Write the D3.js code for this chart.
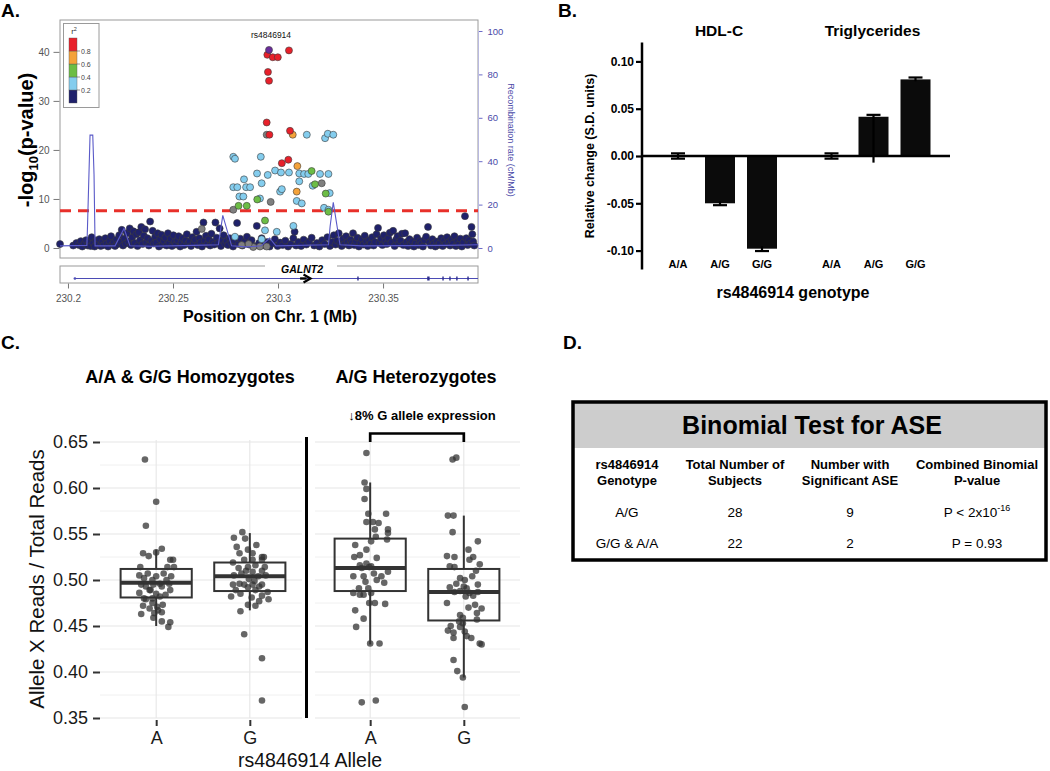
<!DOCTYPE html>
<html><head><meta charset="utf-8">
<script src="https://cdn.jsdelivr.net/npm/d3@7"></script>
<style>body{margin:0;background:#fff} svg{display:block;font-family:"Liberation Sans",Arial,Helvetica,sans-serif}</style>
</head><body><svg id="c" width="1050" height="771"></svg>
<script>
// ================= DATA =================
// Panel A: regional association plot (position in Mb, -log10 p)
const leadSnp = {name: "rs4846914", pos: 230.2957, logp: 40.4};
const snpRed = [[230.2949,39.4],[230.2975,38.9],[230.2999,38.9],[230.3052,40.3],[230.2952,35.9],[230.2957,34.1],[230.2946,25.6],[230.2959,23.1],[230.3057,23.9],[230.3018,17.3],[230.3049,18.0]];
const snpOrange = [[230.3070,23.1],[230.3092,16.7],[230.3089,11.5]];
const snpGreen = [[230.3160,15.7],[230.3176,13.0],[230.3227,11.1],[230.2901,9.9],[230.2851,8.6],[230.2812,8.6],[230.3240,7.4],[230.2938,5.6]];
const snpGrey = [[230.2946,23.1],[230.3208,13.2],[230.2965,9.4],[230.2787,7.8],[230.2637,3.9],[230.2827,0.6],[230.2882,0.2],[230.2914,0.3],[230.2946,0.3],[230.2860,0.8]];
const snpLightBlue = [[230.3137,23.1],[230.3224,22.4],[230.3237,23.3],[230.3263,23.1],[230.2787,18.6],[230.2795,18.2],[230.2918,18.6],[230.2838,14.0],[230.2900,15.2],[230.2951,14.9],[230.2986,15.8],[230.3014,15.4],[230.3052,15.4],[230.3101,15.2],[230.3124,15.1],[230.3144,15.1],[230.3200,15.1],[230.3240,15.1],[230.2787,12.4],[230.2806,12.4],[230.2848,12.4],[230.2867,12.4],[230.2922,13.2],[230.3010,11.5],[230.3018,12.0],[230.3101,13.6],[230.3165,12.7],[230.3246,11.2],[230.2816,10.5],[230.2835,10.5],[230.2914,10.1],[230.3089,9.6],[230.3113,9.1],[230.3219,8.2],[230.3240,7.8],[230.2938,3.6],[230.2994,3.3],[230.3073,4.5],[230.2795,2.3],[230.2922,1.8]];
const snpNavy = [[230.1962,0.8],[230.2025,0.5],[230.2040,1.0],[230.2052,0.6],[230.2061,1.4],[230.2068,0.3],[230.2079,0.9],[230.2086,1.6],[230.2094,0.5],[230.2101,1.1],[230.2108,0.4],[230.2113,2.2],[230.2120,1.0],[230.2127,0.3],[230.2134,1.5],[230.2142,0.7],[230.2149,1.8],[230.2156,0.4],
[230.2163,1.2],[230.2170,0.6],[230.2178,2.0],[230.2184,0.9],[230.2191,0.3],[230.2198,1.4],[230.2205,2.4],[230.2211,0.7],[230.2218,1.1],[230.2224,0.4],[230.2230,1.7],[230.2237,0.8],[230.2244,2.6],[230.2250,1.2],[230.2256,3.7],[230.2262,0.5],[230.2268,1.9],[230.2275,0.9],[230.2281,3.0],[230.2288,1.3],[230.2294,4.0],[230.2300,0.6],[230.2306,2.2],[230.2312,3.4],[230.2318,1.0],[230.2325,2.8],[230.2331,0.4],[230.2337,3.2],[230.2343,1.6],[230.2349,4.3],[230.2355,0.8],[230.2361,2.5],[230.2367,3.8],[230.2373,1.2],[230.2379,2.0],[230.2385,0.5],[230.2391,5.4],[230.2397,1.5],[230.2403,3.5],[230.2409,0.9],[230.2415,2.3],[230.2421,1.1],[230.2427,3.0],[230.2433,0.3],[230.2439,1.8],[230.2445,2.7],[230.2451,0.7],
[230.2457,1.4],[230.2463,2.1],[230.2470,0.5],[230.2476,3.0],[230.2482,1.0],[230.2489,1.9],[230.2495,0.4],[230.2502,2.6],[230.2508,1.2],[230.2514,0.7],[230.2521,1.6],[230.2527,2.4],[230.2534,0.3],[230.2540,1.1],[230.2547,2.0],[230.2553,0.6],[230.2560,1.5],[230.2566,2.8],[230.2573,0.9],[230.2579,1.3],[230.2586,0.4],[230.2592,2.2],[230.2599,1.0],[230.2605,1.7],[230.2612,3.3],[230.2618,0.6],[230.2625,2.0],[230.2631,1.1],[230.2638,0.3],[230.2645,5.2],[230.2651,1.5],[230.2657,2.5],[230.2664,0.8],[230.2670,1.8],[230.2677,0.5],[230.2683,2.9],[230.2689,1.2],[230.2696,0.7],[230.2702,5.2],[230.2708,2.1],[230.2715,1.0],[230.2722,4.0],[230.2728,0.4],[230.2735,1.6],[230.2741,2.6],[230.2748,0.9],[230.2755,1.4],
[230.2762,0.6],[230.2770,2.0],[230.2778,1.1],[230.2786,0.3],[230.2793,1.5],[230.2805,5.1],[230.2812,0.8],[230.2820,1.9],[230.2830,0.5],[230.2841,1.3],[230.2852,2.3],[230.2863,0.7],[230.2874,1.6],[230.2885,0.4],[230.2899,4.5],[230.2910,1.0],[230.2922,2.0],[230.2935,0.5],[230.2948,1.2],[230.2960,0.3],[230.2972,0.9],[230.2985,1.8],[230.2998,0.4],[230.3010,1.1],[230.3022,0.6],[230.3035,1.5],[230.3048,0.3],[230.3060,0.8],[230.3073,2.0],[230.3079,3.3],[230.3086,0.5],[230.3097,1.2],[230.3110,0.4],[230.3122,1.7],[230.3135,0.7],[230.3148,1.3],[230.3160,2.1],[230.3172,0.5],[230.3185,1.0],[230.3197,0.3],[230.3210,1.6],[230.3222,0.8],[230.3235,2.2],[230.3247,0.4],[230.3258,1.2],[230.3266,2.6],[230.3274,0.7],[230.3281,1.5],[230.3289,3.0],[230.3296,1.0],
[230.3303,0.4],[230.3310,1.9],[230.3317,0.8],[230.3324,2.4],[230.3331,1.2],[230.3338,0.5],[230.3345,1.7],[230.3352,1.0],[230.3357,3.0],[230.3364,0.6],[230.3371,1.4],[230.3378,2.1],[230.3385,0.3],[230.3392,1.1],[230.3399,1.8],[230.3406,0.7],[230.3413,2.5],[230.3420,1.3],[230.3427,0.4],[230.3434,1.6],[230.3441,0.9],[230.3448,2.2],[230.3455,0.5],[230.3462,1.2],[230.3469,2.8],[230.3476,4.1],[230.3483,1.0],[230.3490,1.9],[230.3497,0.6],[230.3504,2.6],[230.3511,1.4],[230.3518,0.8],[230.3525,2.0],[230.3532,3.1],[230.3539,1.1],[230.3548,3.5],[230.3555,0.4],[230.3562,1.7],[230.3569,2.4],[230.3576,0.9],[230.3583,1.5],[230.3590,2.9],[230.3597,0.6],[230.3605,3.0],[230.3612,1.2],[230.3619,0.4],[230.3626,1.8],[230.3633,0.8],[230.3640,1.3],[230.3647,0.3],[230.3655,1.0],[230.3662,2.1],[230.3669,0.6],[230.3676,1.4],[230.3683,0.9],[230.3690,0.3],[230.3697,1.6],[230.3705,2.3],[230.3714,4.3],[230.3721,1.1],[230.3728,0.5],[230.3735,1.8],[230.3742,0.9],[230.3749,0.3],[230.3756,1.3],[230.3763,0.6],[230.3770,1.0],[230.3777,2.0],[230.3784,0.4],[230.3791,1.5],[230.3798,0.8],[230.3805,2.2],[230.3812,1.2],[230.3819,0.5],[230.3826,1.7],[230.3833,0.9],[230.3840,2.4],[230.3847,0.4],[230.3854,1.4],[230.3861,0.7],[230.3868,1.9],[230.3875,0.3],[230.3882,1.1],[230.3890,6.5],[230.3896,2.0],[230.3903,0.6],[230.3909,1.6],[230.3915,0.9],[230.3921,4.3],[230.3925,2.8],[230.3929,1.3],[230.3934,0.5]];
// Recombination rate (cM/Mb)
const recombRate = [[230.1962,1.0],[230.2090,1.2],[230.2093,10],[230.2105,52],[230.2118,52],[230.2124,34],[230.2129,1.0],[230.2224,1.0],[230.2267,9],[230.2295,1.0],[230.2400,0.8],[230.2600,1.2],[230.2716,1.5],[230.2737,15],[230.2779,1.0],[230.2850,0.5],[230.2920,1.0],[230.2960,4.6],[230.2990,1.0],[230.3240,1.5],[230.3248,10],[230.3263,21],[230.3295,1.5],[230.3400,1.0],[230.3800,1.2],[230.3952,1.5]];
const sigThreshold = 7.6;
const r2Breaks = [0.2, 0.4, 0.6, 0.8];
const r2Colors = ["#1f216b", "#84cdee", "#6cbd45", "#f4a23a", "#e8202a"];
const leadColor = "#6a2c9a";
const naColor = "#7f7f7f";
const geneName = "GALNT2";
const geneStart = 230.2033, geneEnd = 230.3952;
const geneExons = [230.3381, 230.3714, 230.3786, 230.3819, 230.3852, 230.3905];
const geneArrow = [230.3105, 230.3150];
const posTicks = [230.2, 230.25, 230.3, 230.35];
const logpTicks = [0, 10, 20, 30, 40];
const recTicks = [0, 20, 40, 60, 80, 100];

// Panel B: relative change by genotype
const genotypes = ["A/A", "A/G", "G/G"];
const traits = ["HDL-C", "Triglycerides"];
const hdlValues = [0, -0.050, -0.098];
const hdlErrLow = [0.0028, 0.002, 0.0025];
const hdlErrHigh = [0.0028, 0.002, 0.0025];
const tgValues = [0, 0.0415, 0.081];
const tgErrLow = [0.0028, 0.0485, 0.002];
const tgErrHigh = [0.0028, 0.002, 0.002];
const bTicks = [-0.10, -0.05, 0.00, 0.05, 0.10];

// Panel C: allele fraction, [value, jitter (category units)]
const alleles = ["A", "G"];
const facets = ["A/A & G/G Homozygotes", "A/G Heterozygotes"];
const homA = [[0.631,-0.12],[0.585,0],[0.559,-0.11],[0.534,0.06],[0.530,0],[0.529,-0.14],[0.526,-0.08],[0.522,0.15],[0.522,0.18],[0.514,0.19],[0.514,0.12],[0.514,-0.17],[0.505,-0.18],[0.507,-0.09],[0.504,0],[0.507,0.08],[0.496,0.04],[0.500,0.11],[0.504,0.16],[0.502,-0.13],[0.500,-0.04],[0.496,0.14],[0.495,-0.16],[0.493,-0.11],[0.495,-0.03],[0.489,-0.07],[0.493,0.06],[0.489,0.15],[0.486,-0.18],[0.485,0],[0.484,0.10],[0.479,-0.11],[0.482,0.04],[0.475,-0.04],[0.472,-0.14],[0.471,0.01],[0.473,0.07],[0.469,-0.07],[0.467,0.02],[0.464,-0.02],[0.463,-0.16],[0.465,0.06],[0.480,-0.13],[0.480,-0.04],[0.455,0.06],[0.454,0.15],[0.449,0.13],[0.459,-0.03],[0.489,-0.06]];
const homG = [[0.552,-0.08],[0.545,-0.05],[0.546,-0.17],[0.536,-0.14],[0.533,-0.02],[0.538,0.07],[0.529,0.03],[0.529,-0.11],[0.525,0.13],[0.525,0.15],[0.522,-0.06],[0.522,0.03],[0.522,0.13],[0.519,-0.18],[0.514,-0.02],[0.516,0.06],[0.514,0.16],[0.513,-0.12],[0.510,-0.04],[0.509,0.03],[0.510,0.13],[0.505,-0.17],[0.507,-0.09],[0.504,0.09],[0.505,0.17],[0.501,-0.01],[0.496,-0.11],[0.499,0.05],[0.495,-0.18],[0.495,-0.06],[0.495,0.13],[0.489,-0.15],[0.492,-0.02],[0.489,0.06],[0.487,0.19],[0.483,0.13],[0.485,-0.10],[0.482,-0.20],[0.481,0.02],[0.479,0.20],[0.477,0.10],[0.473,-0.02],[0.472,0.06],[0.466,-0.10],[0.441,-0.06],[0.415,0.13],[0.369,0.13],[0.493,0.10],[0.495,0.03]];
const hetA = [[0.638,-0.04],[0.606,-0.06],[0.599,-0.04],[0.588,-0.06],[0.572,-0.02],[0.572,0.17],[0.563,-0.04],[0.563,0.03],[0.562,0.09],[0.555,0.05],[0.555,0.19],[0.551,0.19],[0.544,0.18],[0.547,0.06],[0.542,0.01],[0.538,-0.16],[0.533,-0.04],[0.527,-0.11],[0.525,-0.17],[0.524,0.07],[0.516,-0.11],[0.518,-0.04],[0.515,0.01],[0.513,-0.09],[0.514,-0.01],[0.509,0.19],[0.504,-0.18],[0.504,-0.07],[0.507,0.04],[0.504,0.12],[0.500,0.07],[0.498,-0.05],[0.497,0.15],[0.491,-0.12],[0.491,-0.02],[0.486,-0.18],[0.484,-0.07],[0.486,0.01],[0.484,-0.11],[0.475,0.05],[0.475,-0.01],[0.474,0.16],[0.467,-0.16],[0.458,-0.07],[0.449,-0.15],[0.431,0.00],[0.431,0.10],[0.367,-0.09],[0.369,0.06]];
const hetG = [[0.631,-0.12],[0.633,-0.08],[0.570,-0.17],[0.570,-0.11],[0.552,-0.12],[0.542,0.15],[0.533,0.05],[0.526,-0.18],[0.525,-0.10],[0.525,0.10],[0.522,0.06],[0.517,0.17],[0.515,-0.15],[0.514,-0.10],[0.510,0.13],[0.502,-0.04],[0.500,0.01],[0.504,0.09],[0.496,-0.08],[0.493,0],[0.495,0.15],[0.492,-0.15],[0.487,-0.10],[0.488,-0.04],[0.491,0.03],[0.486,0.06],[0.483,0.10],[0.487,0.15],[0.475,-0.18],[0.482,0.02],[0.473,0.12],[0.469,0.19],[0.470,0.05],[0.464,0.14],[0.462,-0.04],[0.459,-0.01],[0.457,0.14],[0.455,-0.05],[0.453,-0.01],[0.450,-0.14],[0.449,-0.04],[0.445,-0.17],[0.443,-0.11],[0.444,0.01],[0.439,0.03],[0.437,0.08],[0.437,-0.11],[0.431,0.17],[0.430,0.19],[0.413,-0.11],[0.401,-0.07],[0.394,-0.01],[0.362,0.01]];
// box stats: [lower whisker, Q1, median, Q3, upper whisker]
const homABox = [0.450, 0.481, 0.497, 0.512, 0.533];
const homGBox = [0.467, 0.488, 0.504, 0.519, 0.551];
const hetABox = [0.430, 0.488, 0.513, 0.545, 0.606];
const hetGBox = [0.394, 0.456, 0.487, 0.512, 0.570];
const cTicks = [0.35, 0.40, 0.45, 0.50, 0.55, 0.60, 0.65];
const cMinor = [0.375, 0.425, 0.475, 0.525, 0.575, 0.625];
const bracketLabel = "\u21938% G allele expression";

// Panel D: table
const tableTitle = "Binomial Test for ASE";
const tableHead = [["rs4846914","Genotype"],["Total Number of","Subjects"],["Number with","Significant ASE"],["Combined Binomial","P-value"]];
const tableRows = [["A/G","28","9",["P < 2x10","-16"]],["G/G & A/A","22","2",["P = 0.93",""]]];

// ================= DRAW =================
const svg = d3.select("#c");
function txt(g, x, y, s, o = {}) {
  const t = g.append("text").attr("x", x).attr("y", y).text(s)
    .attr("font-size", o.size || 12).attr("font-weight", o.weight || "normal")
    .attr("fill", o.fill || "#000").attr("text-anchor", o.anchor || "start");
  if (o.style) t.attr("font-style", o.style);
  if (o.rotate) t.attr("transform", `rotate(${o.rotate},${x},${y})`);
  return t;
}
// panel letters
txt(svg, 1, 17, "A.", {size: 19, weight: "bold"});
txt(svg, 558, 17, "B.", {size: 19, weight: "bold"});
txt(svg, 1, 349, "C.", {size: 19, weight: "bold"});
txt(svg, 563, 349, "D.", {size: 19, weight: "bold"});

// ---------- Panel A ----------
(function () {
  const g = svg.append("g");
  const L = 60, R = 478, T = 20, B = 258;
  const x = d3.scaleLinear().domain([230.1962, 230.3952]).range([L, R]);
  const y = d3.scaleLinear().domain([-2.04, 46.5]).range([B, T]);
  const yr = d3.scaleLinear().domain([0, 100]).range([y(0), y(0) - 217]);
  const r2col = d3.scaleThreshold().domain(r2Breaks).range(r2Colors);

  g.append("rect").attr("x", L).attr("y", T).attr("width", R - L).attr("height", B - T)
    .attr("fill", "none").attr("stroke", "#9a9a9a").attr("stroke-width", 1);

  const ax = g.append("g").attr("transform", `translate(${L - 0.5},0)`)
    .call(d3.axisLeft(y).tickValues(logpTicks).tickSize(6).tickPadding(4));
  ax.select(".domain").remove();
  ax.selectAll("line").attr("stroke", "#777");
  ax.selectAll("text").attr("font-size", 10).attr("fill", "#555").attr("font-family", null);

  const ar = g.append("g").attr("transform", `translate(${R + 0.5},0)`)
    .call(d3.axisRight(yr).tickValues(recTicks).tickSize(4).tickPadding(5));
  ar.select(".domain").remove();
  ar.selectAll("line").attr("stroke", "#6b6bc8");
  ar.selectAll("text").attr("font-size", 9.5).attr("fill", "#4a4aa8").attr("font-family", null);
  g.append("line").attr("x1", R + 0.5).attr("x2", R + 0.5).attr("y1", yr(100)).attr("y2", yr(0))
    .attr("stroke", "#b9b9e0");

  // significance line
  g.append("line").attr("x1", L).attr("x2", R).attr("y1", y(sigThreshold)).attr("y2", y(sigThreshold))
    .attr("stroke", "#e8302a").attr("stroke-width", 3.2).attr("stroke-dasharray", "11,7");

  const pts = g.append("g");
  function draw(data, col) {
    pts.selectAll(null).data(data).enter().append("circle")
      .attr("cx", d => x(d[0])).attr("cy", d => y(d[1])).attr("r", 3.5)
      .attr("fill", col).attr("stroke", "#3a3a3a").attr("stroke-width", 0.6);
  }
  draw(snpNavy, r2col(0.1));
  draw(snpGrey, naColor);
  draw(snpLightBlue, r2col(0.3));
  draw(snpGreen, r2col(0.5));
  draw(snpOrange, r2col(0.7));
  draw(snpRed, r2col(0.9));
  draw([[leadSnp.pos, leadSnp.logp]], leadColor);

  // recombination
  g.append("path").datum(recombRate)
    .attr("d", d3.line().x(d => x(d[0])).y(d => yr(d[1])))
    .attr("fill", "none").attr("stroke", "#5a5ac8").attr("stroke-width", 1.1);

  txt(g, x(leadSnp.pos) + 2, 38, leadSnp.name, {size: 8.5, anchor: "middle", fill: "#111"});

  // legend
  const lg = g.append("g");
  lg.append("rect").attr("x", 63.5).attr("y", 23.5).attr("width", 35.5).attr("height", 84)
    .attr("fill", "#fff").attr("stroke", "#9a9a9a");
  const ly = d3.scaleLinear().domain([0, 1]).range([103, 38]);
  const bands = [0].concat(r2Breaks).map((b, i) => [b, i < r2Breaks.length ? r2Breaks[i] : 1]);
  lg.selectAll(null).data(bands).enter().append("rect")
    .attr("x", 69).attr("width", 8).attr("y", d => ly(d[1])).attr("height", d => ly(d[0]) - ly(d[1]))
    .attr("fill", d => r2col((d[0] + d[1]) / 2)).attr("stroke", "#555").attr("stroke-width", 0.4);
  lg.selectAll(null).data(r2Breaks).enter().append("line")
    .attr("x1", 77).attr("x2", 80).attr("y1", d => ly(d)).attr("y2", d => ly(d)).attr("stroke", "#555").attr("stroke-width", 0.6);
  lg.selectAll(null).data(r2Breaks).enter().append("text")
    .attr("x", 81).attr("y", d => ly(d) + 2.5).text(d => d.toFixed(1))
    .attr("font-size", 7).attr("fill", "#444");
  const r2t = txt(lg, 74, 34, "r", {size: 8, fill: "#333", anchor: "middle"});
  r2t.append("tspan").attr("dy", -3).attr("font-size", 5.5).text("2");

  // gene track
  const gt = g.append("g");
  gt.append("rect").attr("x", L).attr("y", 266).attr("width", R - L).attr("height", 17)
    .attr("fill", "none").attr("stroke", "#9a9a9a");
  gt.append("rect").attr("x", 265).attr("y", 262).attr("width", 72).attr("height", 8).attr("fill", "#fff");
  gt.append("line").attr("x1", x(geneStart)).attr("x2", x(geneEnd)).attr("y1", 278.5).attr("y2", 278.5)
    .attr("stroke", "#4b4bb5").attr("stroke-width", 1);
  gt.append("circle").attr("cx", x(geneStart)).attr("cy", 278.5).attr("r", 1.3).attr("fill", "#4b4bb5");
  gt.selectAll(null).data(geneExons).enter().append("rect")
    .attr("x", d => x(d) - 0.8).attr("width", (d, i) => i === 1 ? 2.4 : 1.4).attr("y", 276.5).attr("height", 4)
    .attr("fill", "#2d2d8c");
  gt.append("line").attr("x1", x(geneArrow[0])).attr("x2", x(geneArrow[1]) - 3).attr("y1", 278.5).attr("y2", 278.5)
    .attr("stroke", "#000").attr("stroke-width", 2.4);
  const ah = x(geneArrow[1]);
  gt.append("path").attr("d", `M${ah - 6},${274.5} L${ah + 1},${278.5} L${ah - 6},${282.5}`)
    .attr("fill", "none").attr("stroke", "#000").attr("stroke-width", 2.2);
  txt(gt, 302, 273, geneName, {size: 10.5, weight: "bold", style: "italic", anchor: "middle"});

  const axb = g.append("g").attr("transform", `translate(0,283.5)`)
    .call(d3.axisBottom(x).tickValues(posTicks).tickFormat(d3.format(".3~f")).tickSize(5).tickPadding(6));
  axb.select(".domain").remove();
  axb.selectAll("line").attr("stroke", "#777");
  axb.selectAll("text").attr("font-size", 10).attr("fill", "#555").attr("font-family", null);

  txt(g, 270, 322, "Position on Chr. 1 (Mb)", {size: 16, weight: "bold", anchor: "middle"});
  const yl = txt(g, 33, 140, "-log", {size: 20, weight: "bold", anchor: "middle", rotate: -90});
  yl.append("tspan").attr("font-size", 13).attr("dy", 5).text("10");
  yl.append("tspan").attr("dy", -5).text("(p-value)");
  txt(g, 508, 140, "Recombination rate (cM/Mb)", {size: 9, anchor: "middle", fill: "#4a4aa8", rotate: 90});
})();

// ---------- Panel B ----------
(function () {
  const g = svg.append("g");
  const y = d3.scaleLinear().domain([-0.12, 0.12]).range([269.5, 42.5]);
  const xg = d3.scalePoint().domain(traits).range([720, 873.5]);
  const xi = d3.scalePoint().domain(genotypes).range([-42, 42]);
  const AX = 642;
  g.append("line").attr("x1", AX).attr("x2", AX).attr("y1", y(0.12)).attr("y2", y(-0.12))
    .attr("stroke", "#000").attr("stroke-width", 2.5);
  const ay = g.append("g").attr("transform", `translate(${AX},0)`)
    .call(d3.axisLeft(y).tickValues(bTicks).tickSize(6).tickPadding(2).tickFormat(d => (Math.abs(d) < 1e-9 ? 0 : d).toFixed(2)));
  ay.select(".domain").remove();
  ay.selectAll("line").attr("stroke", "#000").attr("stroke-width", 2.2);
  ay.selectAll("text").attr("font-size", 12).attr("font-weight", "bold").attr("fill", "#000").attr("font-family", null);

  const series = [
    {trait: traits[0], v: hdlValues, lo: hdlErrLow, hi: hdlErrHigh},
    {trait: traits[1], v: tgValues, lo: tgErrLow, hi: tgErrHigh}
  ];
  const bw = 30, cap = 7;
  series.forEach(s => {
    genotypes.forEach((gt, i) => {
      const cx = xg(s.trait) + xi(gt);
      const v = s.v[i];
      if (Math.abs(v) > 1e-9) {
        g.append("rect").attr("x", cx - bw / 2).attr("width", bw)
          .attr("y", y(Math.max(v, 0))).attr("height", Math.abs(y(v) - y(0))).attr("fill", "#0b0b0b");
      }
      const lo = v - s.lo[i], hi = v + s.hi[i];
      g.append("line").attr("x1", cx).attr("x2", cx).attr("y1", y(lo)).attr("y2", y(hi))
        .attr("stroke", "#000").attr("stroke-width", 2.2);
      const caps = v > 1e-9 ? [hi] : v < -1e-9 ? [lo] : [lo, hi];
      caps.forEach(c => g.append("line").attr("x1", cx - cap).attr("x2", cx + cap).attr("y1", y(c)).attr("y2", y(c))
        .attr("stroke", "#000").attr("stroke-width", 2.2));
      txt(g, cx, 268, gt, {size: 11, weight: "bold", anchor: "middle"});
    });
    txt(g, xg(s.trait) - 1, 36, s.trait, {size: 15.5, weight: "bold", anchor: "middle"});
  });
  g.append("line").attr("x1", AX).attr("x2", 950).attr("y1", y(0)).attr("y2", y(0))
    .attr("stroke", "#000").attr("stroke-width", 2.5);
  txt(g, 594, 156, "Relative change (S.D. units)", {size: 12.5, weight: "bold", anchor: "middle", rotate: -90});
  txt(g, 793, 298, "rs4846914 genotype", {size: 16, weight: "bold", anchor: "middle"});
})();

// ---------- Panel C ----------
(function () {
  const g = svg.append("g");
  const y = d3.scaleLinear().domain([0.35, 0.65]).range([718, 442]);
  const panels = [
    {name: facets[0], range: [100, 306], grid: [100, 302], data: [homA, homG], box: [homABox, homGBox], titleX: 190},
    {name: facets[1], range: [314, 520], grid: [315, 520], data: [hetA, hetG], box: [hetABox, hetGBox], titleX: 416}
  ];
  panels.forEach((p, pi) => {
    const x = d3.scalePoint().domain(alleles).range(p.range).padding(0.6);
    const step = x.step();
    g.selectAll(null).data(cMinor).enter().append("line")
      .attr("x1", p.grid[0]).attr("x2", p.grid[1]).attr("y1", d => y(d)).attr("y2", d => y(d))
      .attr("stroke", "#f0f0f0").attr("stroke-width", 1);
    g.selectAll(null).data(cTicks).enter().append("line")
      .attr("x1", p.grid[0]).attr("x2", p.grid[1]).attr("y1", d => y(d)).attr("y2", d => y(d))
      .attr("stroke", "#e6e6e6").attr("stroke-width", 1.1);
    g.selectAll(null).data(alleles).enter().append("line")
      .attr("x1", d => x(d)).attr("x2", d => x(d)).attr("y1", 440).attr("y2", 718)
      .attr("stroke", "#e6e6e6").attr("stroke-width", 1.1);
    alleles.forEach((a, ai) => {
      const b = p.box[ai], cx = x(a), hw = step * 0.38;
      g.append("line").attr("x1", cx).attr("x2", cx).attr("y1", y(b[0])).attr("y2", y(b[1]))
        .attr("stroke", "#333").attr("stroke-width", 2);
      g.append("line").attr("x1", cx).attr("x2", cx).attr("y1", y(b[3])).attr("y2", y(b[4]))
        .attr("stroke", "#333").attr("stroke-width", 2);
      g.append("rect").attr("x", cx - hw).attr("width", hw * 2).attr("y", y(b[3])).attr("height", y(b[1]) - y(b[3]))
        .attr("fill", "none").attr("stroke", "#333").attr("stroke-width", 2);
      g.append("line").attr("x1", cx - hw).attr("x2", cx + hw).attr("y1", y(b[2])).attr("y2", y(b[2]))
        .attr("stroke", "#333").attr("stroke-width", 4);
      g.selectAll(null).data(p.data[ai]).enter().append("circle")
        .attr("cx", d => cx + d[1] * step).attr("cy", d => y(d[0])).attr("r", 3.3)
        .attr("fill", "#333").attr("fill-opacity", 0.75);
    });
    const axb = g.append("g").attr("transform", "translate(0,720)")
      .call(d3.axisBottom(x).tickSize(6).tickPadding(5));
    axb.select(".domain").remove();
    axb.selectAll("line").attr("stroke", "#333").attr("stroke-width", 2);
    axb.selectAll("text").attr("font-size", 18).attr("fill", "#1a1a1a").attr("font-family", null);
    txt(g, p.titleX, 383, p.name, {size: 18, weight: "bold", anchor: "middle"});
    if (pi === 1) {
      g.append("path").attr("d", `M${x("A")},${y(0.65)} V433.5 H${x("G")} V${y(0.65)}`)
        .attr("fill", "none").attr("stroke", "#000").attr("stroke-width", 2.7);
      txt(g, 422, 420, bracketLabel, {size: 13, weight: "bold", anchor: "middle"});
    }
  });
  const ay = g.append("g").attr("transform", "translate(100,0)")
    .call(d3.axisLeft(y).tickValues(cTicks).tickSize(7).tickPadding(5).tickFormat(d3.format(".2f")));
  ay.select(".domain").remove();
  ay.selectAll("line").attr("stroke", "#333").attr("stroke-width", 2);
  ay.selectAll("text").attr("font-size", 18).attr("fill", "#1a1a1a").attr("font-family", null);
  g.append("line").attr("x1", 306.5).attr("x2", 306.5).attr("y1", 437).attr("y2", 718)
    .attr("stroke", "#000").attr("stroke-width", 3);
  txt(g, 44, 579, "Allele X Reads / Total Reads", {size: 20.5, anchor: "middle", rotate: -90, fill: "#111"});
  txt(g, 310, 766.5, "rs4846914 Allele", {size: 19.5, anchor: "middle", fill: "#111"});
})();

// ---------- Panel D ----------
(function () {
  const g = svg.append("g");
  const L = 573, R = 1046, T = 402, B = 560, HB = 448;
  const colX = [627, 735, 850, 977];
  g.append("rect").attr("x", L).attr("y", T).attr("width", R - L).attr("height", HB - T).attr("fill", "#cdcdcd");
  g.append("rect").attr("x", L).attr("y", T).attr("width", R - L).attr("height", B - T)
    .attr("fill", "none").attr("stroke", "#000").attr("stroke-width", 3.5);
  txt(g, 812, 434, tableTitle, {size: 25, weight: "bold", anchor: "middle"});
  tableHead.forEach((h, i) => {
    txt(g, colX[i], 469, h[0], {size: 13, weight: "bold", anchor: "middle"});
    txt(g, colX[i], 485, h[1], {size: 13, weight: "bold", anchor: "middle"});
  });
  tableRows.forEach((r, ri) => {
    const yy = 517 + ri * 31;
    r.forEach((c, ci) => {
      if (Array.isArray(c)) {
        const t = txt(g, colX[ci], yy, c[0], {size: 13.5, anchor: "middle"});
        if (c[1]) t.append("tspan").attr("dy", -6).attr("font-size", 9).text(c[1]);
      } else {
        txt(g, colX[ci], yy, c, {size: 13.5, anchor: "middle"});
      }
    });
  });
})();
</script></body></html>
